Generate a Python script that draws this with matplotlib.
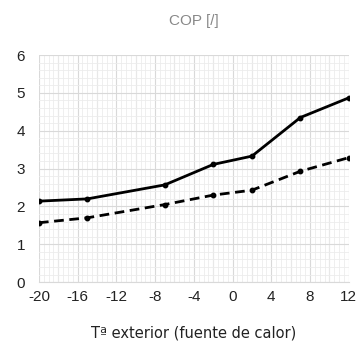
import matplotlib.pyplot as plt
from matplotlib.ticker import MultipleLocator

plt.rcParams['axes.unicode_minus'] = False

# temperatures (x) and COP values for the two curves
temp = [-20, -15, -7, -2, 2, 7, 12]
cop_solid = [2.14, 2.20, 2.57, 3.11, 3.33, 4.35, 4.87]
cop_dashed = [1.57, 1.70, 2.05, 2.30, 2.43, 2.93, 3.29]

xticks = [-20, -16, -12, -8, -4, 0, 4, 8, 12]
yticks = [0, 1, 2, 3, 4, 5, 6]

fig = plt.figure(figsize=(3.57, 3.42), dpi=100)
ax = fig.add_axes([0.109, 0.175, 0.868, 0.664])

ax.plot(temp, cop_solid, color='black', lw=2, marker='o', ms=3.2)
ax.plot(temp, cop_dashed, color='black', lw=2, ls=(0, (3.5, 2)), marker='o', ms=3.2)

ax.set_xlim(-20, 12)
ax.set_ylim(0, 6)
ax.set_xticks(xticks)
ax.set_yticks(yticks)
ax.xaxis.set_minor_locator(MultipleLocator(0.5))
ax.yaxis.set_minor_locator(MultipleLocator(0.2))

# major grid every 2 units on x
for xv in range(-20, 13, 2):
    ax.axvline(xv, color='#d9d9d9', lw=0.8, zorder=0)
ax.grid(True, which='major', axis='y', color='#d9d9d9', lw=0.8, zorder=0)
ax.grid(True, which='minor', color='#ececec', lw=0.6, zorder=0)
ax.set_axisbelow(True)

for s in ['top', 'right', 'left']:
    ax.spines[s].set_visible(False)
ax.spines['bottom'].set_color('#d9d9d9')
ax.tick_params(which='both', length=0)
ax.tick_params(axis='y', labelsize=11, colors='#222222', pad=10)
ax.tick_params(axis='x', labelsize=11, colors='#222222', pad=6)
for lab in ax.get_xticklabels() + ax.get_yticklabels():
    lab.set_family('Liberation Sans')

ax.set_title('COP [/]', fontsize=11, color='#888888', pad=22, family='Liberation Sans')
ax.set_xlabel('Tª exterior (fuente de calor)', fontsize=10.5, color='#222222',
              family='DejaVu Sans', labelpad=15)

fig.savefig('out.png', dpi=100)
